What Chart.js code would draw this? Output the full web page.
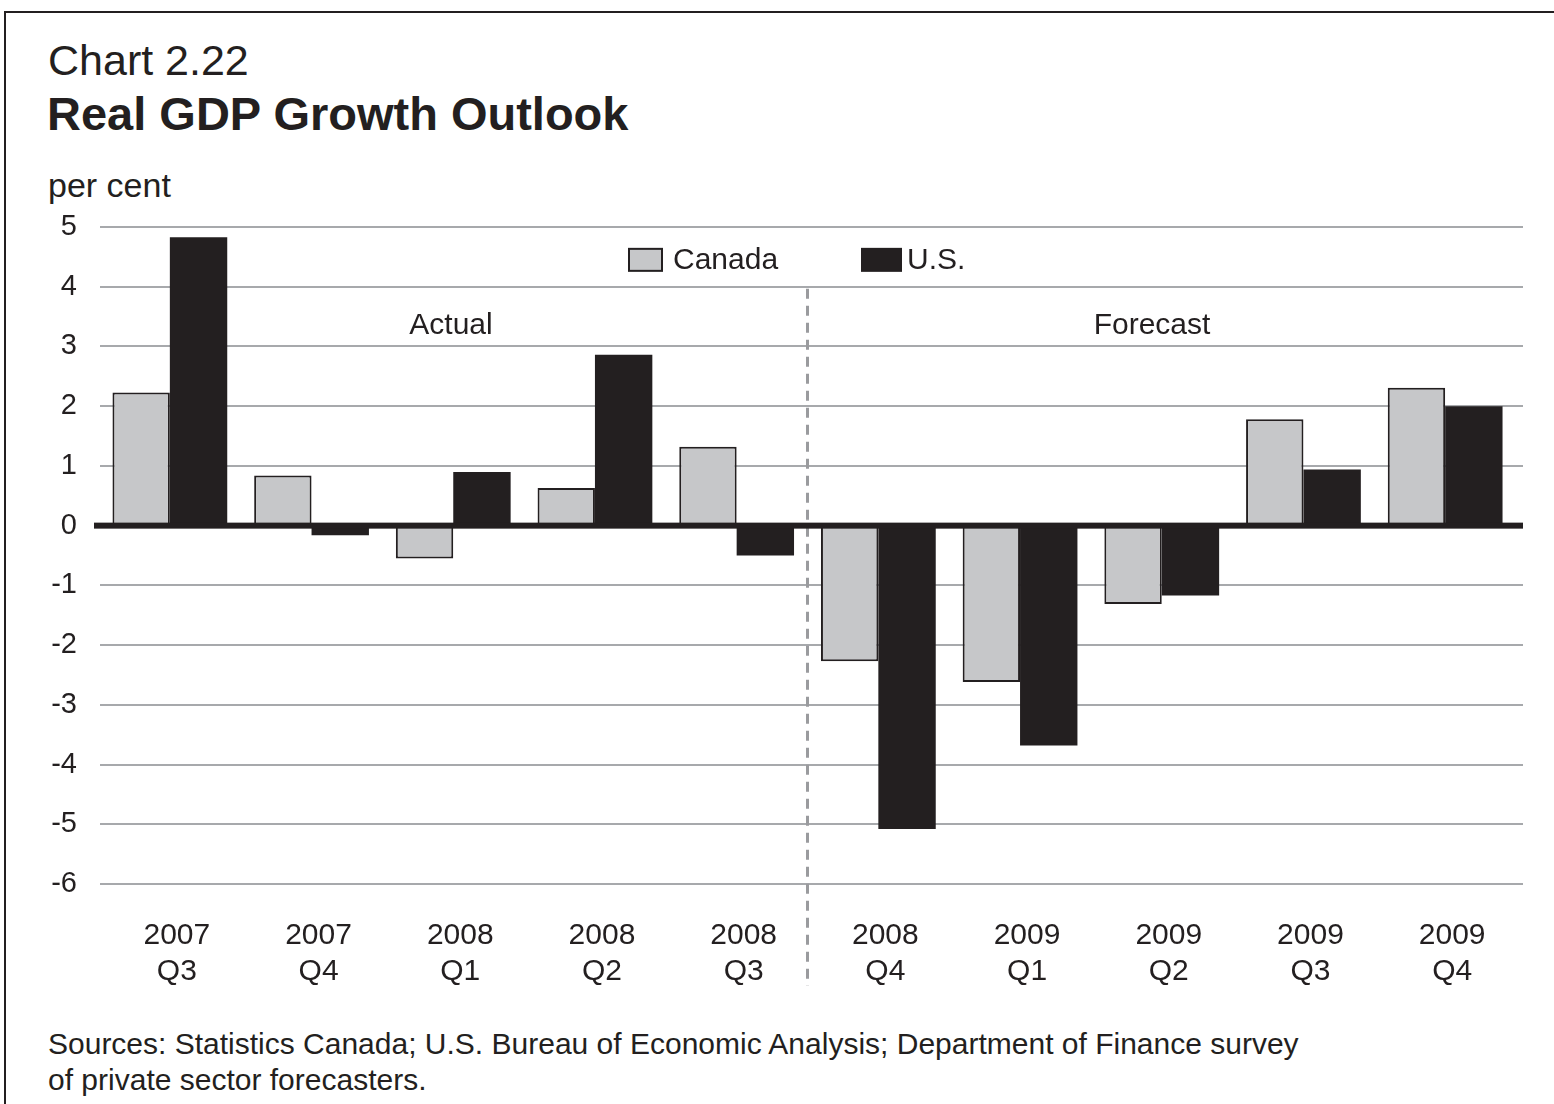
<!DOCTYPE html>
<html>
<head>
<meta charset="utf-8">
<script src="https://cdn.jsdelivr.net/npm/chart.js@4.4.1/dist/chart.umd.min.js"></script>
<style>
  html, body { margin: 0; padding: 0; background: #fff; }
  body { width: 1554px; height: 1104px; position: relative; overflow: hidden; font-family: "Liberation Sans", Arial, sans-serif; color: #231f20; }
  #frame { position: absolute; left: 4px; top: 11px; width: 1560px; height: 1200px; border-left: 2px solid #231f20; border-top: 2px solid #231f20; }
  .txt { position: absolute; white-space: nowrap; }
  #num { left: 48px; top: 36px; font-size: 43px; }
  #ttl { left: 47px; top: 86px; font-size: 47px; font-weight: bold; }
  #unit { left: 48px; top: 166px; font-size: 34px; }
  #src { left: 48px; top: 1026px; font-size: 30px; line-height: 36px; }
  #wrap { position: absolute; left: 0; top: 0; width: 1554px; height: 1104px; }
</style>
</head>
<body>
<div id="frame"></div>
<div class="txt" id="num">Chart 2.22</div>
<div class="txt" id="ttl">Real GDP Growth Outlook</div>
<div class="txt" id="unit">per cent</div>
<div class="txt" id="src">Sources: Statistics Canada; U.S. Bureau of Economic Analysis; Department of Finance survey<br>of private sector forecasters.</div>
<div id="wrap"><canvas id="gdp"></canvas></div>
<script>
var quarters = [['2007', 'Q3'], ['2007', 'Q4'], ['2008', 'Q1'], ['2008', 'Q2'], ['2008', 'Q3'],
                ['2008', 'Q4'], ['2009', 'Q1'], ['2009', 'Q2'], ['2009', 'Q3'], ['2009', 'Q4']];
var canada = [2.23, 0.84, -0.55, 0.63, 1.32, -2.27, -2.62, -1.31, 1.78, 2.31];
var us = [4.83, -0.16, 0.90, 2.86, -0.50, -5.08, -3.68, -1.17, 0.94, 2.00];
var yTicks = [5, 4, 3, 2, 1, 0, -1, -2, -3, -4, -5, -6];
var lastActual = 4; // 2008 Q3 is the last actual quarter

var dark = '#231f20';
var light = '#c6c7c9';
var gridCol = '#a7a9ac';
var fontFam = '"Liberation Sans", Arial, sans-serif';

// grid lines, zero line, actual/forecast divider and labels, legend
var decor = {
    id: 'decor',
    beforeDatasetsDraw: function (chart) {
        var c = chart.ctx, y = chart.scales.y, x = chart.scales.x, a = chart.chartArea;
        c.save();
        c.strokeStyle = gridCol;
        c.lineWidth = 2;
        yTicks.forEach(function (t) {
            if (t === 0) return;
            var py = Math.round(y.getPixelForValue(t));
            c.beginPath();
            c.moveTo(a.left + 1, py);
            c.lineTo(1523, py);
            c.stroke();
        });
        // divider
        var dx = (x.getPixelForValue(lastActual) + x.getPixelForValue(lastActual + 1)) / 2;
        c.strokeStyle = '#9a9b9e';
        c.lineWidth = 3;
        c.setLineDash([10, 7]);
        c.beginPath();
        c.moveTo(dx, y.getPixelForValue(4) + 2);
        c.lineTo(dx, 986);
        c.stroke();
        c.setLineDash([]);
        c.fillStyle = dark;
        c.font = '30px ' + fontFam;
        c.textAlign = 'center';
        c.textBaseline = 'middle';
        c.fillText('Actual', 451, y.getPixelForValue(3.35));
        c.fillText('Forecast', 1152, y.getPixelForValue(3.35));
        // legend
        var ly = y.getPixelForValue(4.45);
        c.fillStyle = light;
        c.fillRect(629, ly - 11, 33, 22);
        c.strokeStyle = dark;
        c.lineWidth = 2;
        c.strokeRect(629, ly - 11, 33, 22);
        c.fillStyle = dark;
        c.fillRect(861, ly - 12, 41, 24);
        c.textAlign = 'left';
        c.fillText('Canada', 673, ly + 1);
        c.fillText('U.S.', 907, ly + 1);
        c.restore();
    },
    afterDatasetsDraw: function (chart) {
        var c = chart.ctx, y = chart.scales.y;
        var py = y.getPixelForValue(0);
        c.save();
        c.fillStyle = dark;
        c.fillRect(94, py - 3, 1523 - 94, 6);
        c.restore();
    }
};

new Chart(document.getElementById('gdp'), {
    type: 'bar',
    data: {
        labels: quarters,
        datasets: [
            {
                label: 'Canada',
                data: canada,
                backgroundColor: light,
                borderColor: dark,
                borderWidth: 2
            },
            {
                label: 'U.S.',
                data: us,
                backgroundColor: dark,
                borderWidth: 0
            }
        ]
    },
    options: {
        responsive: true,
        maintainAspectRatio: false,
        animation: false,
        layout: { padding: { top: 227, right: 38, bottom: 0, left: 0 } },
        plugins: {
            legend: { display: false },
            title: { display: false },
            tooltip: { enabled: false }
        },
        datasets: {
            bar: { barPercentage: 1.0, categoryPercentage: 0.81 }
        },
        scales: {
            x: {
                grid: { display: false, drawTicks: false },
                border: { display: false },
                ticks: {
                    color: dark,
                    padding: 34,
                    labelOffset: 7,
                    maxRotation: 0,
                    font: { family: fontFam, size: 30, lineHeight: 1.2 }
                },
                afterFit: function (scale) { scale.height = 220; }
            },
            y: {
                min: -6,
                max: 5,
                grid: { display: false, drawTicks: false },
                border: { display: false },
                ticks: {
                    stepSize: 1,
                    color: dark,
                    padding: 22,
                    font: { family: fontFam, size: 29 }
                },
                afterFit: function (scale) { scale.width = 99; }
            }
        }
    },
    plugins: [decor]
});
</script>
</body>
</html>
